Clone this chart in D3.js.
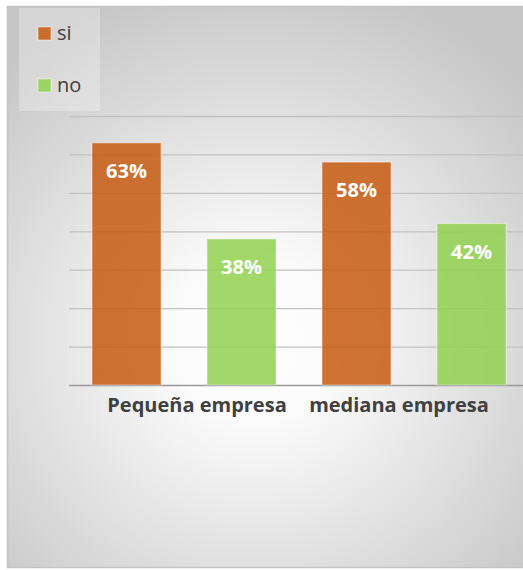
<!DOCTYPE html>
<html>
<head>
<meta charset="utf-8">
<script src="https://cdn.jsdelivr.net/npm/d3@7"></script>
<style>
  html, body { margin: 0; padding: 0; background: #ffffff; }
  svg { display: block; }
</style>
</head>
<body>
<svg id="chart" width="523" height="570"></svg>
<script>
// Data
const categories = ["Pequeña empresa", "mediana empresa"];
const seriesNames = ["si", "no"];
const siValues = [0.63, 0.58];
const noValues = [0.38, 0.42];
const yTicks = [0, 0.1, 0.2, 0.3, 0.4, 0.5, 0.6, 0.7];

const seriesColors = { si: "#c55a11", no: "#92d050" };
const font = "'Open Sans', 'Noto Sans', sans-serif";

const svg = d3.select("#chart");
const W = 523, H = 570;

// Chart frame with a soft radial background
const defs = svg.append("defs");
const grad = defs.append("radialGradient")
  .attr("id", "bg")
  .attr("gradientUnits", "userSpaceOnUse")
  .attr("cx", 255).attr("cy", 340).attr("r", 370);
grad.append("stop").attr("offset", "0").attr("stop-color", "#ffffff");
grad.append("stop").attr("offset", "0.22").attr("stop-color", "#fbfbfb");
grad.append("stop").attr("offset", "1").attr("stop-color", "#c6c6c6");

svg.append("rect")
  .attr("x", 7.5).attr("y", 6.5)
  .attr("width", W - 6).attr("height", H - 9)
  .attr("fill", "url(#bg)")
  .attr("stroke", "#c4c4c4").attr("stroke-width", 1.5);

// Layout
const plot = { left: 69, right: 529, top: 116, bottom: 385 };

const x0 = d3.scaleBand()
  .domain(categories)
  .range([plot.left, plot.right])
  .paddingInner(0).paddingOuter(0);

const x1 = d3.scaleBand()
  .domain(seriesNames)
  .range([0, x0.bandwidth()])
  .paddingInner(0.4).paddingOuter(0.2);

const y = d3.scaleLinear()
  .domain([0, 0.7])
  .range([plot.bottom, plot.top]);

// Horizontal gridlines
const grid = svg.append("g")
  .attr("transform", `translate(0,0)`)
  .call(d3.axisLeft(y).tickValues(yTicks).tickSize(-(W - plot.left)).tickFormat(""))
  .attr("transform", `translate(${plot.left},0)`);
grid.select(".domain").remove();
grid.selectAll(".tick line")
  .attr("stroke", d => d === 0 ? "#9a9a9a" : "#c2c2c2")
  .attr("stroke-width", d => d === 0 ? 1.5 : 1.3);

// Bars
const rows = categories.map((c, i) => ({
  category: c,
  values: [
    { key: "si", value: siValues[i] },
    { key: "no", value: noValues[i] }
  ]
}));

const groups = svg.append("g").selectAll("g")
  .data(rows)
  .join("g")
  .attr("transform", d => `translate(${x0(d.category)},0)`);

groups.selectAll("rect")
  .data(d => d.values)
  .join("rect")
  .attr("x", d => x1(d.key))
  .attr("y", d => y(d.value))
  .attr("width", x1.bandwidth())
  .attr("height", d => y(0) - y(d.value))
  .attr("fill", d => seriesColors[d.key])
  .attr("fill-opacity", 0.85)
  .attr("stroke", "#ffffff")
  .attr("stroke-opacity", 0.45)
  .attr("stroke-width", 1);

// Value labels inside the bars
groups.selectAll("text")
  .data(d => d.values)
  .join("text")
  .attr("x", d => x1(d.key) + x1.bandwidth() / 2)
  .attr("y", d => y(d.value) + 35)
  .attr("text-anchor", "middle")
  .attr("font-family", font)
  .attr("font-weight", 700)
  .attr("font-size", 20)
  .attr("fill", "#ffffff")
  .text(d => d3.format(".0%")(d.value));

// Category labels under the axis
const labelNudge = [13, -15];
svg.append("g").selectAll("text")
  .data(categories)
  .join("text")
  .attr("x", (d, i) => x0(d) + x0.bandwidth() / 2 + labelNudge[i])
  .attr("y", 412)
  .attr("text-anchor", "middle")
  .attr("font-family", font)
  .attr("font-weight", 700)
  .attr("font-size", 20)
  .attr("fill", "#404040")
  .text(d => d);

// Legend
const legend = svg.append("g");
legend.append("rect")
  .attr("x", 19).attr("y", 8)
  .attr("width", 81).attr("height", 103)
  .attr("fill", "#ffffff").attr("fill-opacity", 0.28);

const legendItems = legend.selectAll("g")
  .data(seriesNames)
  .join("g")
  .attr("transform", (d, i) => `translate(38,${27 + i * 52})`);

legendItems.append("rect")
  .attr("width", 13).attr("height", 13)
  .attr("fill", d => seriesColors[d])
  .attr("fill-opacity", 0.85)
  .attr("stroke", "#ffffff").attr("stroke-opacity", 0.5);

legendItems.append("text")
  .attr("x", 19).attr("y", 13)
  .attr("font-family", font)
  .attr("font-size", 20)
  .attr("fill", "#404040")
  .text(d => d);
</script>
</body>
</html>
